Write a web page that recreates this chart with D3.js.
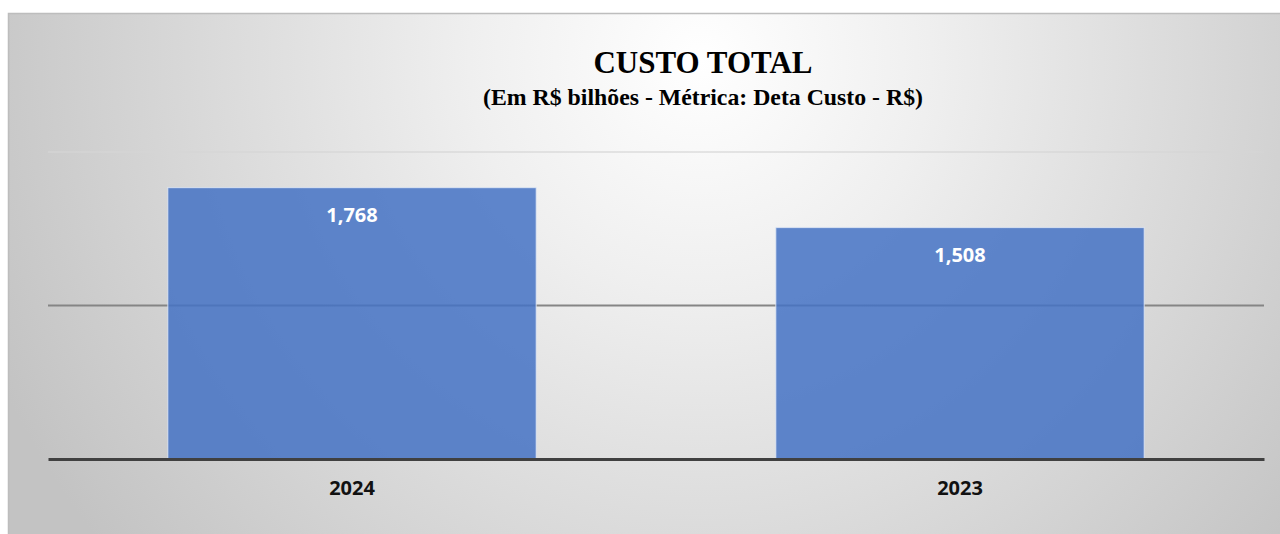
<!DOCTYPE html>
<html>
<head>
<meta charset="utf-8">
<script src="https://cdn.jsdelivr.net/npm/d3@7"></script>
<style>
  html, body { margin: 0; padding: 0; background: #ffffff; }
  svg { display: block; }
</style>
</head>
<body>
<svg id="chart" width="1280" height="534"></svg>
<script>
// Custo total por ano (R$ bilhões)
const categories = ["2024", "2023"];
const values = [1.768, 1.508];
const valueLabels = ["1,768", "1,508"];
const gridValues = [0, 1, 2];
const titleText = "CUSTO TOTAL";
const subtitleText = "(Em R$ bilhões - Métrica: Deta Custo - R$)";

const W = 1280, H = 534;
const svg = d3.select("#chart");

// chart area background with a soft radial light near the title
const defs = svg.append("defs");
const grad = defs.append("radialGradient")
  .attr("id", "bgGrad")
  .attr("gradientUnits", "userSpaceOnUse")
  .attr("cx", 700).attr("cy", 60)
  .attr("r", 770);
grad.append("stop").attr("offset", "0").attr("stop-color", "#ffffff");
grad.append("stop").attr("offset", "0.3").attr("stop-color", "#efefef");
grad.append("stop").attr("offset", "1").attr("stop-color", "#c3c3c3");

const frame = { x: 8, y: 13, w: W - 8, h: H - 13 };
svg.append("rect")
  .attr("x", frame.x).attr("y", frame.y)
  .attr("width", frame.w).attr("height", frame.h)
  .attr("fill", "url(#bgGrad)");
svg.append("path")
  .attr("d", `M${frame.x + 0.5},${H} V${frame.y + 0.5} H${W}`)
  .attr("fill", "none")
  .attr("stroke", "#bdbdbd")
  .attr("stroke-width", 1.5);

// plot geometry
const plot = { left: 48, right: 1264, top: 152, bottom: 459 };

const x = d3.scaleBand()
  .domain(categories)
  .range([plot.left, plot.right])
  .paddingInner(0.394)
  .paddingOuter(0.197);

const y = d3.scaleLinear()
  .domain([0, 2])
  .range([plot.bottom, plot.top]);

// horizontal gridlines
const g = svg.append("g");
g.selectAll("line.grid")
  .data(gridValues.filter(v => v > 0))
  .join("line")
  .attr("class", "grid")
  .attr("x1", plot.left).attr("x2", plot.right)
  .attr("y1", d => y(d)).attr("y2", d => y(d))
  .attr("stroke", d => d === 1 ? "#858585" : "#d6d6d6")
  .attr("stroke-opacity", d => d === 1 ? 1 : 0.8)
  .attr("stroke-width", d => d === 1 ? 2 : 1.5);

// bars
g.selectAll("rect.bar")
  .data(values)
  .join("rect")
  .attr("class", "bar")
  .attr("x", (d, i) => x(categories[i]))
  .attr("y", d => y(d))
  .attr("width", x.bandwidth())
  .attr("height", d => y(0) - y(d))
  .attr("fill", "#4472c4")
  .attr("fill-opacity", 0.85)
  .attr("stroke", "#e6ecf7")
  .attr("stroke-opacity", 0.7)
  .attr("stroke-width", 1.2);

// baseline axis
const xAxis = d3.axisBottom(x).tickSize(0).tickPadding(22);
const axisG = svg.append("g")
  .attr("transform", `translate(0,${y(0)})`)
  .call(xAxis);
axisG.select(".domain")
  .attr("stroke", "#404040")
  .attr("stroke-width", 3);
axisG.selectAll("text")
  .attr("font-family", "'Open Sans', sans-serif")
  .attr("font-weight", "bold")
  .attr("font-size", 20)
  .attr("fill", "#111111");

// value labels inside bars
g.selectAll("text.val")
  .data(values)
  .join("text")
  .attr("class", "val")
  .attr("x", (d, i) => x(categories[i]) + x.bandwidth() / 2)
  .attr("y", d => y(d) + 34)
  .attr("text-anchor", "middle")
  .attr("font-family", "'Open Sans', sans-serif")
  .attr("font-weight", "bold")
  .attr("font-size", 20)
  .attr("fill", "#ffffff")
  .text((d, i) => valueLabels[i]);

// title block
const cx = 703;
svg.append("text")
  .attr("x", cx).attr("y", 73)
  .attr("text-anchor", "middle")
  .attr("font-family", "'Liberation Serif', 'Times New Roman', serif")
  .attr("font-weight", "bold")
  .attr("font-size", 31)
  .attr("fill", "#000000")
  .text(titleText);
svg.append("text")
  .attr("x", cx).attr("y", 105)
  .attr("text-anchor", "middle")
  .attr("font-family", "'Liberation Serif', 'Times New Roman', serif")
  .attr("font-weight", "bold")
  .attr("font-size", 23)
  .attr("textLength", 440)
  .attr("lengthAdjust", "spacingAndGlyphs")
  .attr("fill", "#000000")
  .text(subtitleText);
</script>
</body>
</html>
